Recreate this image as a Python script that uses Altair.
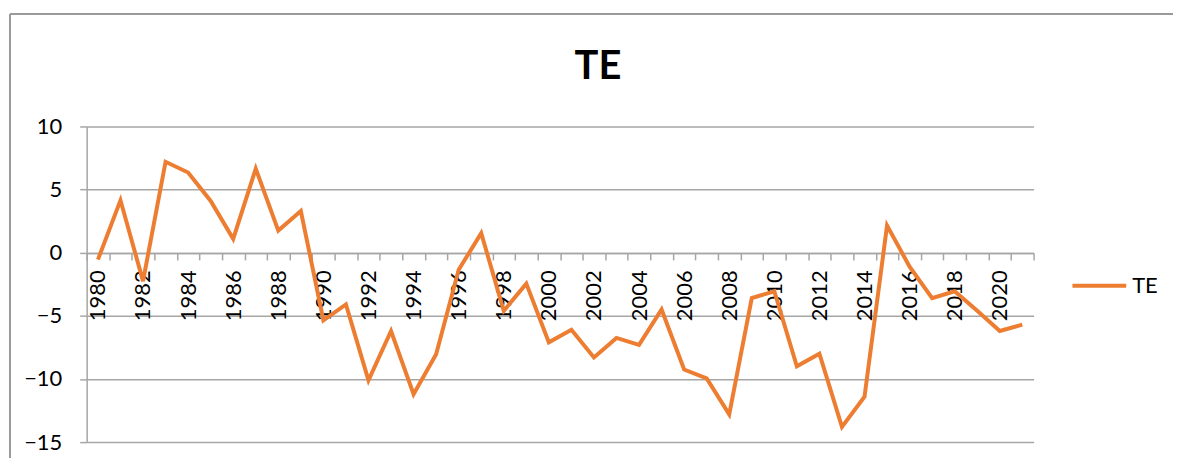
import altair as alt
import pandas as pd

years = list(range(1980, 2022))
te = [-0.55, 4.15, -2.25, 7.2, 6.35, 4.1, 1.1, 6.65, 1.75, 3.3,
      -5.35, -4.1, -10.1, -6.2, -11.2, -8.05, -1.35, 1.55, -4.6, -2.45,
      -7.1, -6.1, -8.3, -6.75, -7.3, -4.5, -9.25, -9.95, -12.8, -3.6,
      -3.05, -9.0, -8.0, -13.8, -11.4, 2.15, -1.1, -3.6, -3.05, -4.6,
      -6.2, -5.7]
series_name = "TE"
y_ticks = [-15, -10, -5, 0, 5, 10]

df = pd.DataFrame({"year": years, "value": te, "series": [series_name] * len(years)})

W, H = 951, 317
FONT = "Lato"
GRID = "#a6a6a6"

line = alt.Chart(df).mark_line(strokeWidth=4).encode(
    x=alt.X("year:O", title=None,
            axis=alt.Axis(orient="bottom", offset=-round(H * 15 / 25), labelAngle=-90,
                          labelAlign="right", labelBaseline="middle",
                          labelExpr="datum.value % 2 == 0 ? datum.label : ''",
                          tickBand="extent", tickSize=7, tickColor=GRID, tickWidth=1.5,
                          domainColor=GRID, domainWidth=1.5, labelPadding=10,
                          labelFont=FONT, labelFontSize=22, labelColor="#000",
                          grid=False)),
    y=alt.Y("value:Q", title=None,
            scale=alt.Scale(domain=[-15, 10], nice=False, zero=False),
            axis=alt.Axis(values=y_ticks, tickSize=7, tickColor=GRID, tickWidth=1.5,
                          domainColor=GRID, domainWidth=1.5, gridColor=GRID, gridWidth=1.5,
                          labelPadding=18, labelFont=FONT, labelFontSize=22,
                          labelColor="#000")),
    color=alt.Color("series:N", title=None,
                    scale=alt.Scale(domain=[series_name], range=["#ED7D31"]),
                    legend=alt.Legend(orient="none", legendX=988, legendY=131,
                                      symbolType="stroke", symbolSize=2916,
                                      symbolStrokeWidth=4, labelFont=FONT,
                                      labelFontSize=22, labelColor="#000",
                                      labelOffset=4)),
)

frame_df = pd.DataFrame({"k": [0]})
top_border = alt.Chart(frame_df).mark_rule(color="#9a9a9a", strokeWidth=2).encode(
    x=alt.value(-77), x2=alt.value(1200), y=alt.value(-113))
left_border = alt.Chart(frame_df).mark_rule(color="#9a9a9a", strokeWidth=2).encode(
    x=alt.value(-77), y=alt.value(-113), y2=alt.value(400))

chart = alt.layer(line, top_border, left_border).properties(
    width=W, height=H,
    autosize=alt.AutoSizeParams(type="none"),
    padding={"left": 79, "top": 118, "right": 140, "bottom": 15},
    title=alt.TitleParams("TE", font=FONT, fontSize=40, fontWeight="bold", color="#000",
                          anchor="middle", dx=38, baseline="alphabetic", offset=0, dy=106),
).configure_view(stroke=None)

chart.save("out.html", embed_options={"renderer": "svg", "actions": False})
